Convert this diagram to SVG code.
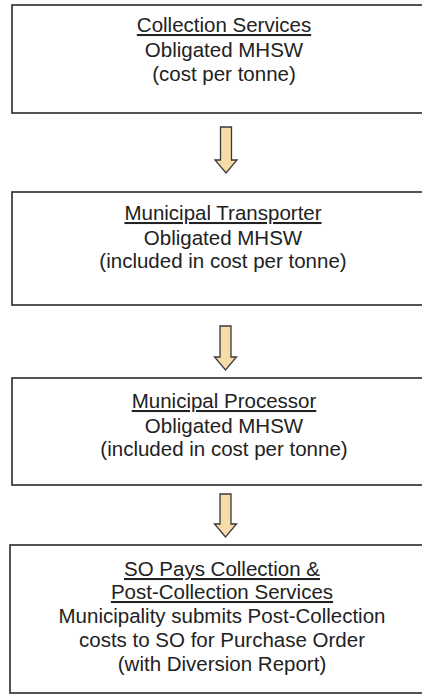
<svg xmlns="http://www.w3.org/2000/svg" width="422" height="696" viewBox="0 0 422 696">
<style>
.box{fill:#fff;stroke:#2a2a2a;stroke-width:1.6}
.t{font-family:"Liberation Sans",Arial,sans-serif;font-size:20.5px;fill:#222;text-anchor:middle}
.u{text-decoration:underline}
.arr{fill:#f7dba8;stroke:#3a3a3a;stroke-width:1.3;stroke-linejoin:miter}
</style>
<rect width="422" height="696" fill="#fff"/>
<g id="n1">
<rect class="box" x="12" y="5" width="426" height="108"/>
<text class="t u" x="224" y="32">Collection Services</text>
<text class="t" x="224" y="57">Obligated MHSW</text>
<text class="t" x="224" y="81">(cost per tonne)</text>
</g>
<g id="n2">
<rect class="box" x="12" y="192" width="426" height="113"/>
<text class="t u" x="223" y="220">Municipal Transporter</text>
<text class="t" x="223" y="245">Obligated MHSW</text>
<text class="t" x="223" y="268">(included in cost per tonne)</text>
</g>
<g id="n3">
<rect class="box" x="12" y="378" width="426" height="107"/>
<text class="t u" x="224" y="408">Municipal Processor</text>
<text class="t" x="224" y="433">Obligated MHSW</text>
<text class="t" x="224" y="456">(included in cost per tonne)</text>
</g>
<g id="n4">
<rect class="box" x="10" y="545" width="428" height="148"/>
<text class="t u" x="222" y="576">SO Pays Collection &amp;</text>
<text class="t u" x="222" y="599">Post-Collection Services</text>
<text class="t" x="222" y="623">Municipality submits Post-Collection</text>
<text class="t" x="222" y="647">costs to SO for Purchase Order</text>
<text class="t" x="222" y="671">(with Diversion Report)</text>
</g>
<g id="connectors">
<path class="arr" d="M220.5,127 H231.5 V160 H237 L226,173 L215,160 H220.5 Z"/>
<path class="arr" d="M220,326 H231 V357 H236.5 L225.5,370 L214.5,357 H220 Z"/>
<path class="arr" d="M220,494 H231 V524 H236.5 L225.5,537 L214.5,524 H220 Z"/>
</g>
</svg>
